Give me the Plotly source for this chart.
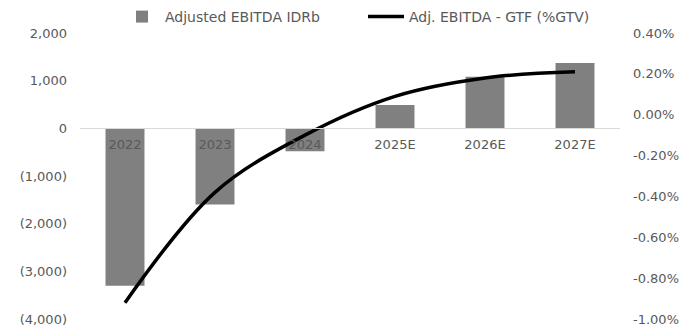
import plotly.graph_objects as go

categories = ["2022", "2023", "2024", "2025E", "2026E", "2027E"]
ebitda_idrb = [-3300, -1600, -480, 490, 1080, 1370]
ebitda_gtf_pct = [-0.92, -0.38, -0.10, 0.09, 0.18, 0.21]

left_ticks = [2000, 1000, 0, -1000, -2000, -3000, -4000]
left_labels = ["2,000", "1,000", "0", "(1,000)", "(2,000)", "(3,000)", "(4,000)"]
right_ticks = [0.4, 0.2, 0.0, -0.2, -0.4, -0.6, -0.8, -1.0]
right_labels = ["0.40%", "0.20%", "0.00%", "-0.20%", "-0.40%", "-0.60%", "-0.80%", "-1.00%"]

FONT = "DejaVu Sans"
GRAY = "#595959"

fig = go.Figure()
fig.add_trace(go.Bar(
    x=categories, y=ebitda_idrb, name="Adjusted EBITDA IDRb",
    marker=dict(color="#808080", line=dict(width=0)),
    yaxis="y",
))
fig.add_trace(go.Scatter(
    x=categories, y=ebitda_gtf_pct, name="Adj. EBITDA - GTF (%GTV)",
    mode="lines", line=dict(color="#000000", width=3.5, shape="spline", smoothing=1.0),
    yaxis="y2",
))

fig.update_layout(
    width=698, height=329,
    margin=dict(l=80, r=78, t=33, b=10, autoexpand=False),
    paper_bgcolor="white", plot_bgcolor="white",
    font=dict(family=FONT, size=13, color=GRAY),
    bargap=0.567,
    showlegend=True,
    legend=dict(
        orientation="h", xref="container", yref="container",
        x=119 / 698, xanchor="left", y=1 - 17 / 329, yanchor="middle",
        font=dict(family=FONT, size=14, color=GRAY),
        entrywidth=193, entrywidthmode="pixels",
        bgcolor="rgba(0,0,0,0)", itemwidth=36,
    ),
    xaxis=dict(
        type="category", anchor="free", position=4000 / 6000,
        showline=True, linecolor="#d9d9d9", linewidth=1,
        showgrid=False, zeroline=False, ticks="",
        ticklabelstandoff=4,
        tickfont=dict(family=FONT, size=13, color=GRAY),
        range=[-0.5, 5.5],
    ),
    yaxis=dict(
        range=[-4000, 2000], tickvals=left_ticks, ticktext=left_labels,
        showgrid=False, zeroline=False, showline=False, ticks="",
        ticklabelstandoff=12,
        tickfont=dict(family=FONT, size=13, color=GRAY),
    ),
    yaxis2=dict(
        range=[-1.0, 0.4], tickvals=right_ticks, ticktext=right_labels,
        overlaying="y", side="right",
        showgrid=False, zeroline=False, showline=False, ticks="",
        ticklabelstandoff=12,
        tickfont=dict(family=FONT, size=13, color=GRAY),
    ),
)

fig.write_html("out.html")
